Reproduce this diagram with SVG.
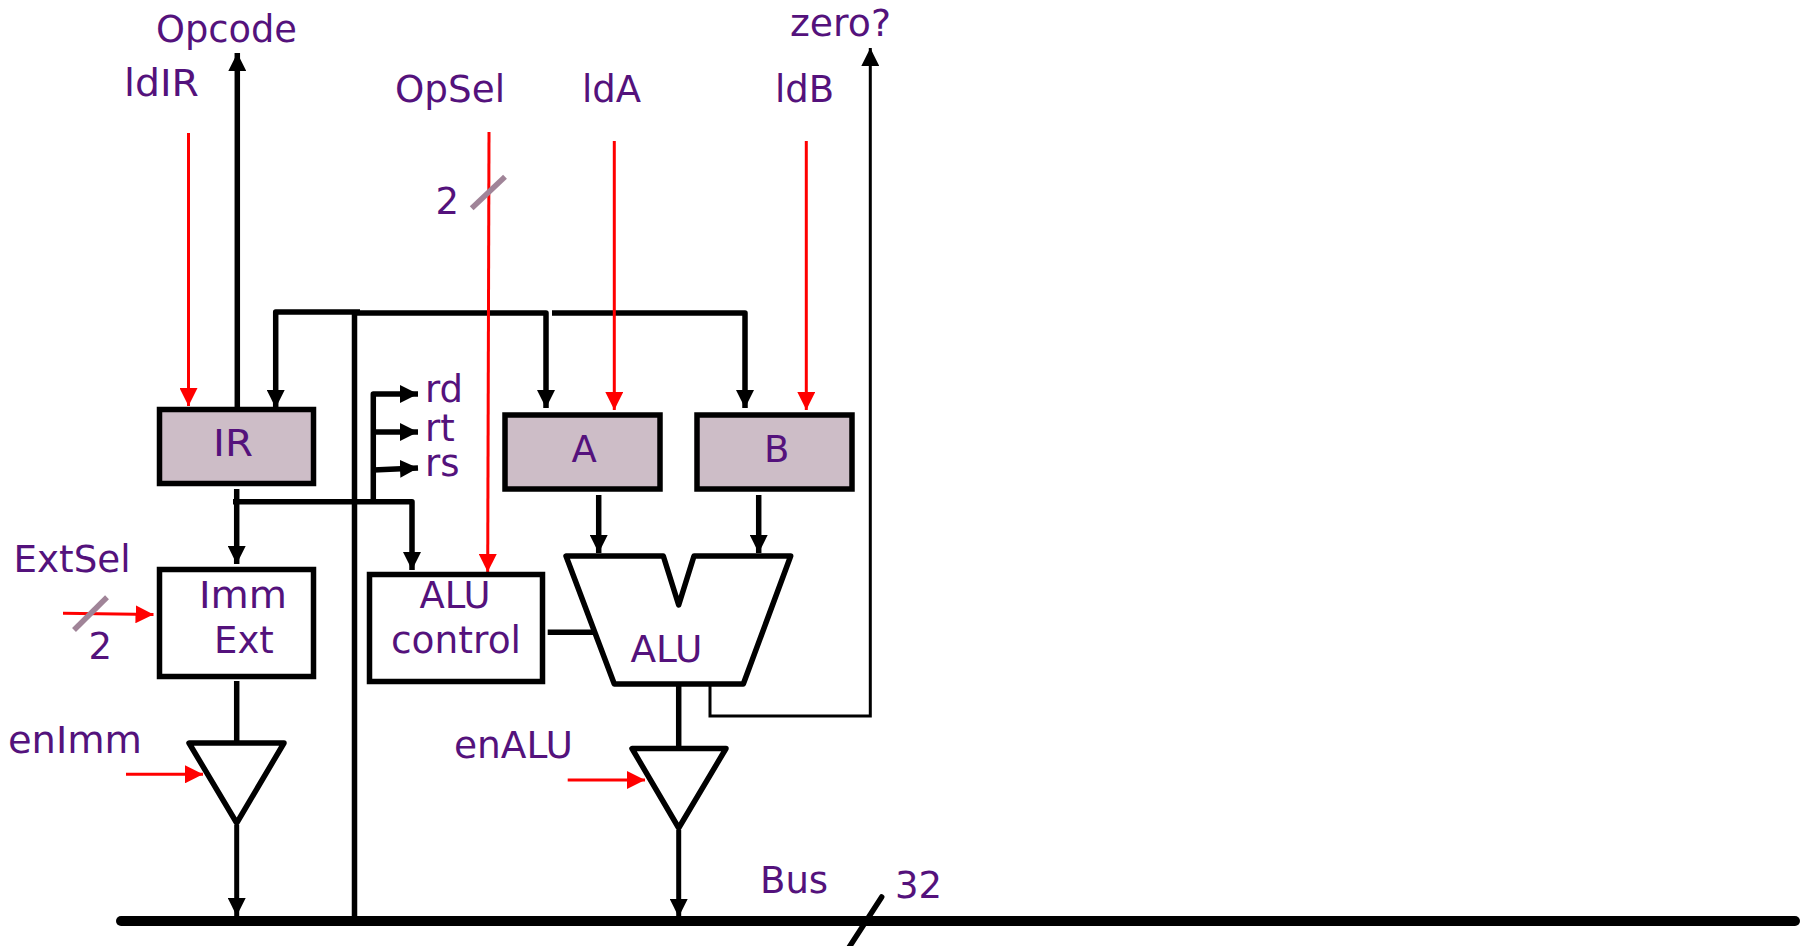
<svg xmlns="http://www.w3.org/2000/svg" width="1808" height="946" viewBox="0 0 1808 946">
<style>
text{font-family:"DejaVu Sans","Liberation Sans",sans-serif;font-size:37px;fill:#54127c}
.reg{fill:#cdbdc7;stroke:#000;stroke-width:5.5}
.box{fill:#fff;stroke:#000;stroke-width:5.5}
.sh{fill:#fff;stroke:#000;stroke-width:5.5;stroke-linejoin:round}
.w{fill:none;stroke:#000;stroke-width:5.5;stroke-linejoin:round}
.w4{fill:none;stroke:#000;stroke-width:5}
.r{fill:none;stroke:#f00;stroke-width:3}
.s{fill:none;stroke:#a08498;stroke-width:5.5}
</style>
<defs>
<marker id="k" markerUnits="userSpaceOnUse" markerWidth="18" markerHeight="18" refX="18" refY="9" orient="auto"><path d="M0 0L18 9L0 18Z" fill="#000"/></marker>
<marker id="d" markerUnits="userSpaceOnUse" markerWidth="18" markerHeight="18" refX="18" refY="9" orient="auto"><path d="M0 0L18 9L0 18Z" fill="#f00"/></marker>
</defs>
<g id="connectors">
<path class="w" d="M237.3 407V53" marker-end="url(#k)"/>
<path class="w" d="M354.5 921V312"/>
<path class="w" d="M360 312H275.7V408" marker-end="url(#k)"/>
<path class="w" d="M355 313H546V408" marker-end="url(#k)"/>
<path class="w" d="M552 313H745V408" marker-end="url(#k)"/>
<path class="w" d="M236.7 489V564" marker-end="url(#k)"/>
<path class="w" d="M233 501.7H412V570" marker-end="url(#k)"/>
<path class="w" d="M373.3 501.7V394H418" marker-end="url(#k)"/>
<path class="w" d="M373.3 432H418" marker-end="url(#k)"/>
<path class="w" d="M373.3 470L418 468" marker-end="url(#k)"/>
<path class="w" d="M598.7 495V553" marker-end="url(#k)"/>
<path class="w" d="M758.7 495V553" marker-end="url(#k)"/>
<path class="w" d="M547.7 632.3H593"/>
<path class="w" d="M236.7 681V745"/>
<path class="w" d="M678.7 686V750"/>
<path class="w4" d="M236.7 825V916" marker-end="url(#k)"/>
<path class="w4" d="M678.7 830V917" marker-end="url(#k)"/>
<path fill="none" stroke="#000" stroke-width="3" d="M710 686V716H870.3V48" marker-end="url(#k)"/>
<path d="M121 921H1795" fill="none" stroke="#000" stroke-width="10" stroke-linecap="round"/>
<path d="M881.7 897L848 949" fill="none" stroke="#000" stroke-width="5.5" stroke-linecap="round"/>
<path class="r" d="M188.5 133V406" marker-end="url(#d)"/>
<path class="r" d="M489 132L487.7 572" marker-end="url(#d)"/>
<path class="r" d="M614.3 141V410" marker-end="url(#d)"/>
<path class="r" d="M806.3 141V410" marker-end="url(#d)"/>
<path class="r" d="M63 613.3L153.5 614.5" marker-end="url(#d)"/>
<path class="r" d="M126 774.3H203" marker-end="url(#d)"/>
<path class="r" d="M567.7 780H645" marker-end="url(#d)"/>
<path class="s" d="M471.7 208.3L505 176.7"/>
<path class="s" d="M74 630L107 597.3"/>
</g>
<g id="IR"><rect class="reg" x="159.5" y="409.5" width="154" height="74"/><text x="213" y="455.5" textLength="40" lengthAdjust="spacingAndGlyphs">IR</text></g>
<g id="A"><rect class="reg" x="505" y="415" width="155" height="74"/><text x="571.5" y="462">A</text></g>
<g id="B"><rect class="reg" x="697" y="415" width="155" height="74"/><text x="764" y="462">B</text></g>
<g id="ImmExt"><rect class="box" x="159.5" y="569.5" width="154" height="107"/><text x="199" y="607.5" textLength="88" lengthAdjust="spacingAndGlyphs">Imm</text><text x="214" y="652.5">Ext</text></g>
<g id="ALUcontrol"><rect class="box" x="369.5" y="574.5" width="173" height="107"/><text x="419.5" y="607.5" textLength="71" lengthAdjust="spacingAndGlyphs">ALU</text><text x="391" y="652.5" textLength="130" lengthAdjust="spacingAndGlyphs">control</text></g>
<g id="ALU"><path class="sh" d="M566 556H663.3L678.7 605L694 556H790.7L743.3 684H614.3Z"/><text x="630.5" y="661.5" textLength="72" lengthAdjust="spacingAndGlyphs">ALU</text></g>
<g id="triImm"><path class="sh" d="M189 743H284L236.7 823Z"/></g>
<g id="triALU"><path class="sh" d="M632 748.5H726L678.7 828Z"/></g>
<g id="labels">
<text x="156" y="41.5" textLength="141" lengthAdjust="spacingAndGlyphs">Opcode</text>
<text x="124" y="95.5" textLength="75" lengthAdjust="spacingAndGlyphs">ldIR</text>
<text x="395" y="102" textLength="110" lengthAdjust="spacingAndGlyphs">OpSel</text>
<text x="435.5" y="213.5">2</text>
<text x="582" y="102">ldA</text>
<text x="775" y="102">ldB</text>
<text x="790" y="35.5" textLength="101" lengthAdjust="spacingAndGlyphs">zero?</text>
<text x="425" y="402">rd</text>
<text x="425" y="441">rt</text>
<text x="425" y="475.5">rs</text>
<text x="13.5" y="571.5" textLength="117" lengthAdjust="spacingAndGlyphs">ExtSel</text>
<text x="88.5" y="658.5">2</text>
<text x="8" y="752.5" textLength="134" lengthAdjust="spacingAndGlyphs">enImm</text>
<text x="454" y="757.5" textLength="119" lengthAdjust="spacingAndGlyphs">enALU</text>
<text x="760" y="893">Bus</text>
<text x="895" y="897.5">32</text>
</g>
</svg>
